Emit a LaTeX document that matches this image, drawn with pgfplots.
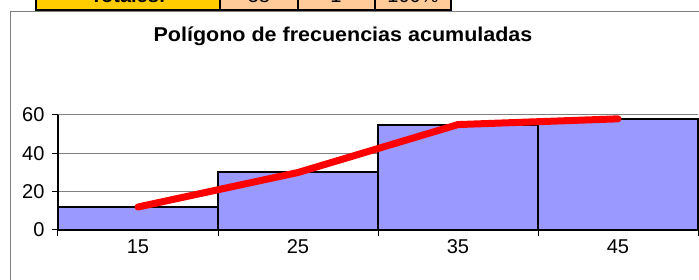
\documentclass[border=0pt]{standalone}
\usepackage{pgfplots}
\pgfplotsset{compat=1.18}
\usepackage{fontspec}
\setmainfont{Liberation Sans}
\definecolor{barblue}{HTML}{9999FF}
\definecolor{cellyellow}{HTML}{FFCC00}
\definecolor{cellorange}{HTML}{FFCC99}
\definecolor{framegray}{HTML}{808080}
\begin{document}
\begin{tikzpicture}
\useasboundingbox (0pt,0pt) rectangle (699pt,280pt);
\clip (0pt,0pt) rectangle (699pt,280pt);
% table fragment
\fill[cellyellow] (36pt,270pt) rectangle (220pt,295pt);
\fill[cellorange] (220pt,270pt) rectangle (451pt,295pt);
\draw[black, line width=2pt] (36pt,295pt) -- (36pt,270pt) -- (451pt,270pt) -- (451pt,295pt);
\draw[black, line width=2pt] (220pt,270pt) -- (220pt,295pt);
\draw[black, line width=2pt] (298pt,270pt) -- (298pt,295pt);
\draw[black, line width=2pt] (375pt,270pt) -- (375pt,295pt);
\node[anchor=base, inner sep=0pt, font=\fontsize{20}{24}\selectfont\bfseries] at (128pt,277pt) {Totales:};
\node[anchor=base, inner sep=0pt, font=\fontsize{20}{24}\selectfont] at (259pt,277pt) {58};
\node[anchor=base, inner sep=0pt, font=\fontsize{20}{24}\selectfont] at (336pt,277pt) {1};
\node[anchor=base, inner sep=0pt, font=\fontsize{20}{24}\selectfont] at (413pt,277pt) {100\%};
% chart area frame
\draw[framegray, line width=1pt] (10.5pt,-5pt) -- (10.5pt,268.5pt) -- (710pt,268.5pt);
% title
\node[anchor=base, inner sep=0pt, font=\fontsize{20}{24}\selectfont\bfseries] at (343pt,238.5pt) {\scalebox{1.075}[1]{Polígono de frecuencias acumuladas}};
\begin{axis}[
  at={(58pt,50pt)}, anchor=south west,
  scale only axis, width=640pt, height=115pt,
  xmin=0, xmax=4, ymin=0, ymax=60,
  ytick={0,20,40,60},
  xtick={0,1,2,3,4},
  x tick label as interval,
  xticklabels={15,25,35,45},
  axis x line*=bottom, axis y line*=left,
  axis line style={black, line width=1.5pt, -},
  tick align=outside, major tick length=6pt,
  tick style={black, line width=1pt},
  ymajorgrids,
  major grid style={framegray, line width=1pt},
  ticklabel style={font=\fontsize{20}{24}\selectfont},
  yticklabel style={xshift=-4pt},
  /pgf/number format/assume math mode=true,
  clip=false,
]
\addplot[ybar interval, fill=barblue, draw=black, line width=2pt] coordinates {(0,12) (1,30) (2,55) (3,58) (4,58)};
\addplot[red, line width=7pt, line cap=round, line join=round] coordinates {(0.5,12) (1.5,30) (2.5,55) (3.5,58)};
\end{axis}
\end{tikzpicture}
\end{document}
